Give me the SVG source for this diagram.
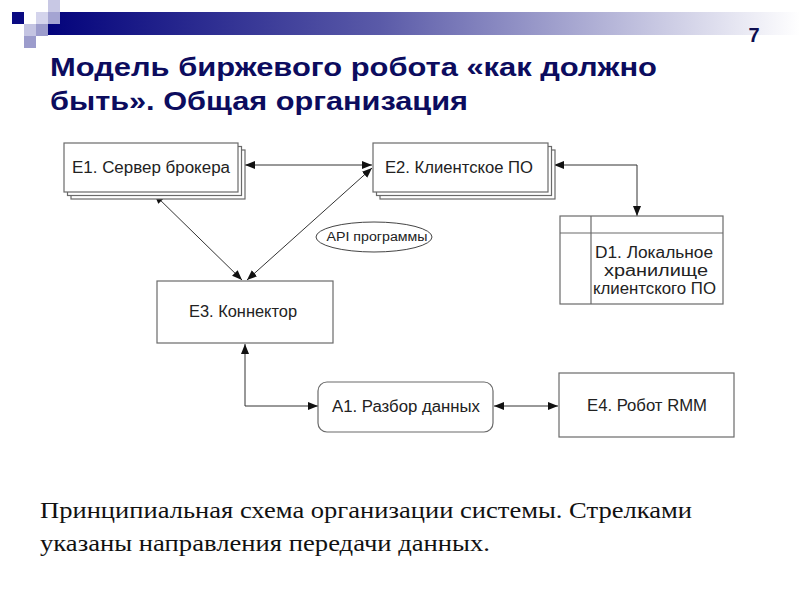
<svg xmlns="http://www.w3.org/2000/svg" width="800" height="600" viewBox="0 0 800 600">
<defs>
<linearGradient id="bar" x1="0" y1="0" x2="1" y2="0">
<stop offset="0" stop-color="#00007a"/>
<stop offset="0.45" stop-color="#5a5aa8"/>
<stop offset="0.8" stop-color="#c4c4e0"/>
<stop offset="1" stop-color="#ffffff"/>
</linearGradient>
<marker id="ah" viewBox="0 0 10 10" refX="10" refY="5" markerWidth="10" markerHeight="10" markerUnits="userSpaceOnUse" orient="auto-start-reverse">
<path d="M0,1 L10,5 L0,9 Z" fill="#111"/>
</marker>
<style>
.box{fill:#fff;stroke:#6a6a6a;stroke-width:1.2}
.t{font-family:"Liberation Sans",Arial,sans-serif;font-size:16px;fill:#222;text-anchor:middle}
.c{fill:none;stroke:#333;stroke-width:1;marker-start:url(#ah);marker-end:url(#ah)}
</style>
</defs>
<rect width="800" height="600" fill="#fff"/>
<g id="header">
<rect x="36" y="12" width="764" height="23" fill="url(#bar)"/>
<rect x="48" y="0" width="12" height="12" fill="#c8c8e4"/>
<rect x="12" y="12" width="12" height="12" fill="#0a0a82"/>
<rect x="36" y="12" width="12" height="12" fill="#d4d4ec"/>
<rect x="48" y="12" width="12" height="12" fill="#a4a4d2"/>
<rect x="24" y="24" width="12" height="12" fill="#c4c4e2"/>
<rect x="36" y="24" width="12" height="12" fill="#9c9ccc"/>
<rect x="24" y="36" width="12" height="12" fill="#9c9ccc"/>
<text x="754" y="42" font-family="Liberation Sans,Arial,sans-serif" font-size="20" font-weight="bold" fill="#0d0d50" text-anchor="middle">7</text>
</g>
<g id="title" font-family="Liberation Sans,Arial,sans-serif" font-size="25" font-weight="bold" fill="#0c0c5e">
<text x="50" y="76" textLength="607" lengthAdjust="spacingAndGlyphs">Модель биржевого робота «как должно</text>
<text x="50" y="110" textLength="418" lengthAdjust="spacingAndGlyphs">быть». Общая организация</text>
</g>
<g id="connectors">
<line class="c" x1="245" y1="165" x2="372" y2="165"/>
<polyline class="c" points="554,165 637,165 637,216"/>
<line class="c" x1="154" y1="194" x2="242" y2="280"/>
<line class="c" x1="372" y1="168" x2="247" y2="280"/>
<polyline class="c" points="245,344 245,406 318,406"/>
<line class="c" x1="494" y1="406" x2="558" y2="406"/>
</g>
<g id="E1">
<rect class="box" x="71" y="150" width="174" height="49"/>
<rect class="box" x="67.5" y="146.5" width="174" height="49"/>
<rect class="box" x="64" y="143" width="174" height="49"/>
<text class="t" x="151" y="173" textLength="158" lengthAdjust="spacingAndGlyphs">E1. Сервер брокера</text>
</g>
<g id="E2">
<rect class="box" x="380" y="150" width="175" height="49"/>
<rect class="box" x="376.5" y="146.5" width="175" height="49"/>
<rect class="box" x="373" y="143" width="175" height="49"/>
<text class="t" x="459" y="173" textLength="148" lengthAdjust="spacingAndGlyphs">E2. Клиентское ПО</text>
</g>
<g id="D1">
<rect class="box" x="560" y="216" width="163" height="88"/>
<line x1="560" y1="233" x2="723" y2="233" stroke="#6a6a6a" stroke-width="1.2"/>
<line x1="591" y1="216" x2="591" y2="304" stroke="#6a6a6a" stroke-width="1.2"/>
<text class="t" x="654" y="258" textLength="118" lengthAdjust="spacingAndGlyphs">D1. Локальное</text>
<text class="t" x="656" y="276" textLength="104" lengthAdjust="spacingAndGlyphs">хранилище</text>
<text class="t" x="654.5" y="294" textLength="123" lengthAdjust="spacingAndGlyphs">клиентского ПО</text>
</g>
<g id="API">
<ellipse cx="374" cy="237" rx="58" ry="15" fill="#fff" stroke="#444" stroke-width="1"/>
<text x="377" y="241" font-family="Liberation Sans,Arial,sans-serif" font-size="12" fill="#222" text-anchor="middle" textLength="101" lengthAdjust="spacingAndGlyphs">API программы</text>
</g>
<g id="E3">
<rect class="box" x="157" y="281" width="176" height="62"/>
<text class="t" x="243" y="317" textLength="108" lengthAdjust="spacingAndGlyphs">E3. Коннектор</text>
</g>
<g id="A1">
<rect class="box" x="318" y="382" width="175" height="50" rx="9"/>
<text class="t" x="406" y="412" textLength="148" lengthAdjust="spacingAndGlyphs">A1. Разбор данных</text>
</g>
<g id="E4">
<rect class="box" x="559" y="373" width="175" height="64"/>
<text class="t" x="647" y="411" textLength="120" lengthAdjust="spacingAndGlyphs">E4. Робот RMM</text>
</g>
<g id="caption" font-family="Liberation Serif,Times New Roman,serif" font-size="23" fill="#111">
<text x="40" y="518" textLength="652" lengthAdjust="spacingAndGlyphs">Принципиальная схема организации системы. Стрелками</text>
<text x="40" y="551" textLength="450" lengthAdjust="spacingAndGlyphs">указаны направления передачи данных.</text>
</g>
</svg>
